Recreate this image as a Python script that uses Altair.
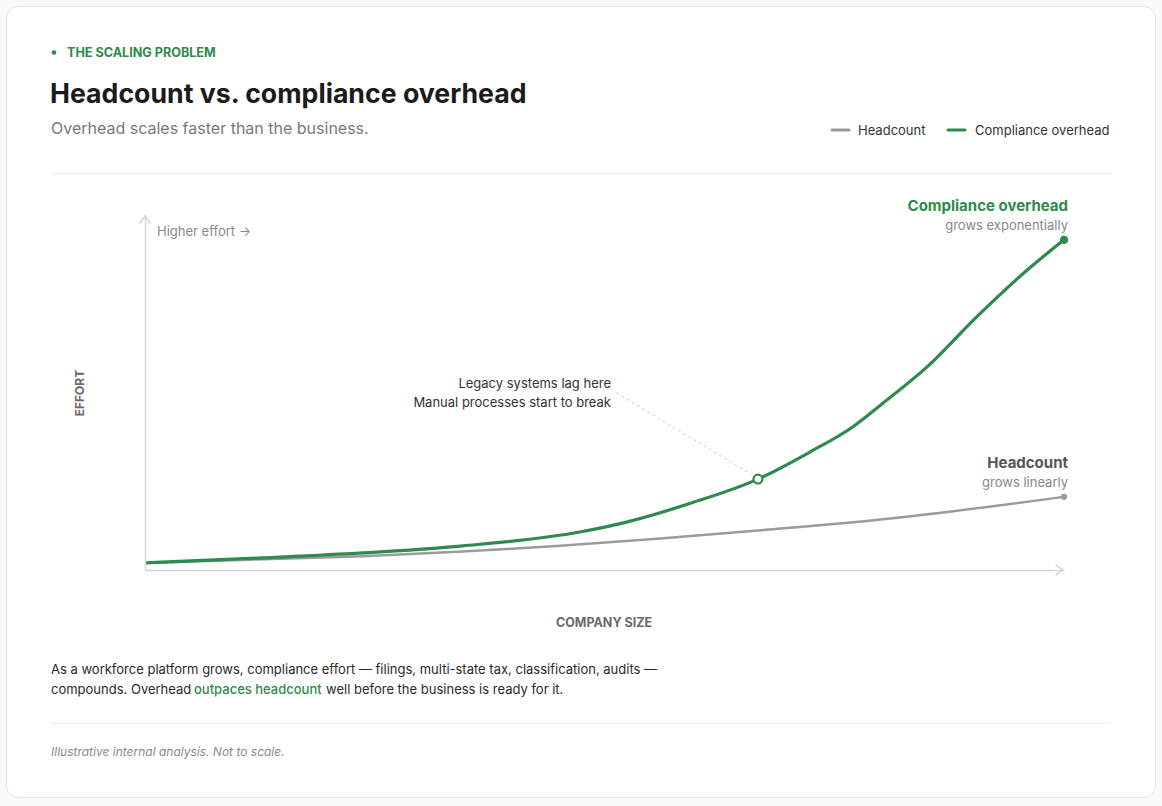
import altair as alt
import pandas as pd

# ---- data ----
overhead_size = [0, 12.8, 23.7, 34.6, 47.3, 52.4, 59.6, 66.7, 72.4, 77.0, 80.3, 85.1, 90.5, 96.0, 100]
overhead_effort = [2.0, 3.4, 4.8, 6.8, 10.7, 13.5, 19.0, 25.6, 33.3, 40.3, 47.0, 57.2, 71.3, 84.5, 93.0]
headcount_size = [0, 12.8, 23.7, 34.6, 45.2, 56.1, 67.0, 81.4, 100]
headcount_effort = [2.0, 3.0, 3.9, 5.2, 6.8, 8.9, 11.2, 14.6, 20.6]
series_names = ["Headcount", "Compliance overhead"]
series_colors = ["#9b9b9b", "#2f8a4e"]
highlight_size = [66.7]
highlight_effort = [25.6]
leader_start = [51.3, 49.9]
leader_end = [66.0, 26.9]

GREEN = "#2f8a4e"
FONT = "Inter"

# plot-area placement inside the 1162x806 canvas
L, T = 145, 215
W, H = 919, 355

df = pd.concat([
    pd.DataFrame({"size": headcount_size, "effort": headcount_effort, "series": series_names[0]}),
    pd.DataFrame({"size": overhead_size, "effort": overhead_effort, "series": series_names[1]}),
])
ends = df.groupby("series", as_index=False).last()

xs = alt.Scale(domain=[0, 100], nice=False, zero=False)
ys = alt.Scale(domain=[0, 100], nice=False, zero=False)
cs = alt.Scale(domain=series_names, range=series_colors)

base = alt.Chart(df)
X = alt.X("size:Q", scale=xs, axis=alt.Axis(title=None, labels=False, ticks=False, grid=False,
                                             domainColor="#d6d6d6", domainWidth=1.5, zindex=1))
Y = alt.Y("effort:Q", scale=ys, axis=alt.Axis(title=None, labels=False, ticks=False, grid=False,
                                               domainColor="#d6d6d6", domainWidth=1.5, zindex=1))

one = pd.DataFrame({"k": [0]})


def txt(text, px, py, size=13, color="#333333", weight="normal", align="left", style="normal", angle=0):
    kw = dict(text=text, font=FONT, fontSize=size, color=color, fontWeight=weight,
              align=align, baseline="middle", fontStyle=style)
    if angle:
        kw["angle"] = angle
    return alt.Chart(one).mark_text(**kw).encode(x=alt.value(px - L), y=alt.value(py - T))


def hline(x1, x2, py, color="#ececec", width=1):
    return alt.Chart(one).mark_rule(color=color, strokeWidth=width).encode(
        x=alt.value(x1 - L), x2=alt.value(x2 - L), y=alt.value(py - T))


def seg(x1, y1, x2, y2, color="#cfcfcf", width=1.3):
    return alt.Chart(one).mark_rule(color=color, strokeWidth=width, strokeCap="round").encode(
        x=alt.value(x1 - L), x2=alt.value(x2 - L), y=alt.value(y1 - T), y2=alt.value(y2 - T))


card = alt.Chart(one).mark_rect(fill="white", stroke="#e6e6e6", strokeWidth=1, cornerRadius=12).encode(
    x=alt.value(6.5 - L), x2=alt.value(1155.5 - L), y=alt.value(6.5 - T), y2=alt.value(797.5 - T))

lines_gray = base.transform_filter(alt.datum.series == "Headcount").mark_line(
    strokeWidth=2.5, interpolate="monotone").encode(x=X, y=Y, color=alt.Color("series:N", scale=cs, legend=None))
lines_green = base.transform_filter(alt.datum.series == "Compliance overhead").mark_line(
    strokeWidth=3.2, interpolate="monotone").encode(x=X, y=Y, color=alt.Color("series:N", scale=cs, legend=None))

end_dots = alt.Chart(ends).mark_circle(opacity=1).encode(
    x=alt.X("size:Q", scale=xs), y=alt.Y("effort:Q", scale=ys),
    color=alt.Color("series:N", scale=cs, legend=None),
    size=alt.Size("series:N", scale=alt.Scale(domain=series_names, range=[40, 70]), legend=None))

hl_df = pd.DataFrame({"size": highlight_size, "effort": highlight_effort})
highlight = alt.Chart(hl_df).mark_point(filled=True, fill="white", stroke=GREEN, strokeWidth=2.2,
                                        size=80, opacity=1).encode(
    x=alt.X("size:Q", scale=xs), y=alt.Y("effort:Q", scale=ys))

lead_df = pd.DataFrame({"x1": [leader_start[0]], "y1": [leader_start[1]],
                        "x2": [leader_end[0]], "y2": [leader_end[1]]})
leader = alt.Chart(lead_df).mark_rule(color="#b3dbbf", strokeWidth=1, strokeDash=[3, 3]).encode(
    x=alt.X("x1:Q", scale=xs), y=alt.Y("y1:Q", scale=ys), x2="x2:Q", y2="y2:Q")

layers = [
    card,
    # header
    alt.Chart(one).mark_circle(color=GREEN, size=22, opacity=1).encode(x=alt.value(54 - L), y=alt.value(52.5 - T)),
    txt("THE SCALING PROBLEM", 67, 53, size=12.6, color=GREEN, weight="bold"),
    txt("Headcount vs. compliance overhead", 50, 95, size=26.7, color="#1b1b1b", weight="bold"),
    txt("Overhead scales faster than the business.", 51, 128.5, size=16, color="#7a7a7a"),
    # legend
    seg(832, 130, 849, 130, color="#9b9b9b", width=3),
    txt("Headcount", 858, 130.5, size=13, color="#333333"),
    seg(948, 130, 965, 130, color=GREEN, width=3),
    txt("Compliance overhead", 975, 130.5, size=13, color="#333333"),
    hline(51, 1111, 173.5),
    # axis arrows
    seg(140, 223, 145, 216),
    seg(150, 223, 145, 216),
    seg(1056, 565, 1063, 570),
    seg(1056, 575, 1063, 570),
    txt("Higher effort \u2192", 157, 231.5, size=13, color="#8a8a8a"),
    txt("EFFORT", 80, 393, size=12, color="#6a6a6a", weight="bold", align="center", angle=270),
    txt("COMPANY SIZE", 604, 622.5, size=12.5, color="#6a6a6a", weight="bold", align="center"),
    # data
    leader,
    lines_gray,
    lines_green,
    end_dots,
    highlight,
    # annotations
    txt("Legacy systems lag here", 611, 383.5, size=13, color="#333333", align="right"),
    txt("Manual processes start to break", 611, 402.5, size=13, color="#333333", align="right"),
    txt("Compliance overhead", 1068, 205.5, size=15, color=GREEN, weight="bold", align="right"),
    txt("grows exponentially", 1068, 225.5, size=13, color="#888888", align="right"),
    txt("Headcount", 1068, 462.5, size=15, color="#555555", weight="bold", align="right"),
    txt("grows linearly", 1068, 482.5, size=13, color="#888888", align="right"),
    # footnote paragraph
    txt("As a workforce platform grows, compliance effort \u2014 filings, multi-state tax, classification, audits \u2014",
        51, 669.5, size=13, color="#2a2a2a"),
    txt("compounds. Overhead", 51, 689.5, size=13, color="#2a2a2a"),
    txt("outpaces headcount", 194, 689.5, size=13, color=GREEN, weight=500),
    txt("well before the business is ready for it.", 326, 689.5, size=13, color="#2a2a2a"),
    hline(51, 1111, 723.5),
    txt("Illustrative internal analysis. Not to scale.", 51, 751.5, size=12, color="#8a8a8a", style="italic"),
]

chart = alt.layer(*layers).properties(
    width=W, height=H,
    padding={"left": L, "top": T, "right": 1162 - L - W, "bottom": 806 - T - H},
    autosize=alt.AutoSizeParams(type="none"),
    background="#fafafa",
).configure_view(stroke=None)

chart.save("out.html", embed_options={"renderer": "svg", "actions": False})
